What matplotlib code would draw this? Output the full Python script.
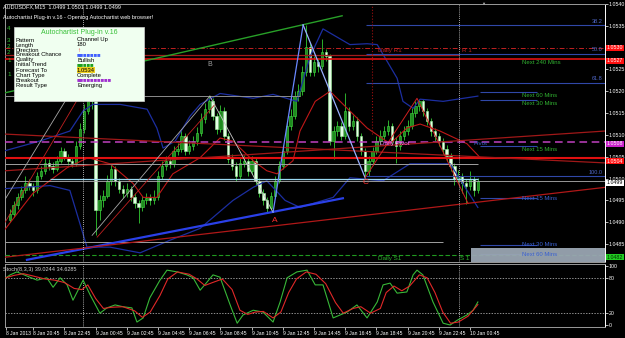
import matplotlib
matplotlib.use("Agg")
import matplotlib.pyplot as plt
from matplotlib.patches import Rectangle

plt.rcParams["font.family"] = ["Liberation Sans Narrow", "Liberation Sans", "DejaVu Sans"]

# -------------------------------
# Data (AUDUSD M15)
# -------------------------------
first_bar = 2          # bar slot of the first candle
first_open = 1.04905

closes = [1.04920, 1.04939, 1.04957, 1.04973, 1.04991, 1.04982, 1.04973, 1.05007, 1.05018, 1.05036,
          1.05030, 1.05023, 1.05041, 1.05064, 1.05050, 1.05041, 1.05036, 1.05075, 1.05114, 1.05155,
          1.05211, 1.05177, 1.04927, 1.04950, 1.04961, 1.04995, 1.05023, 1.04995, 1.04977, 1.04968,
          1.04977, 1.04959, 1.04945, 1.04936, 1.04950, 1.04955, 1.04950, 1.04959, 1.05007, 1.05030,
          1.05041, 1.05034, 1.05064, 1.05068, 1.05098, 1.05064, 1.05075, 1.05086, 1.05105, 1.05136,
          1.05159, 1.05177, 1.05143, 1.05114, 1.05155, 1.05098, 1.05045, 1.05030, 1.05007, 1.05036,
          1.05041, 1.05018, 1.05041, 1.04995, 1.04968, 1.04950, 1.04932, 1.04961, 1.04995, 1.05030,
          1.05064, 1.05120, 1.05143, 1.05189, 1.05200, 1.05245, 1.05302, 1.05245, 1.05268, 1.05257,
          1.05291, 1.05280, 1.05086, 1.05109, 1.05120, 1.05098, 1.05155, 1.05120, 1.05132, 1.05098,
          1.05064, 1.05018, 1.05041, 1.05064, 1.05086, 1.05098, 1.05109, 1.05120, 1.05086, 1.05075,
          1.05098, 1.05109, 1.05120, 1.05150, 1.05166, 1.05177, 1.05155, 1.05132, 1.05109, 1.05098,
          1.05086, 1.05068, 1.05052, 1.05030, 1.05000, 1.05007, 1.04991, 1.04984, 1.05000, 1.04973,
          1.04995]

highs = [1.04930, 1.04948, 1.04966, 1.04984, 1.05005, 1.04998, 1.04989, 1.05016, 1.05030, 1.05048,
         1.05045, 1.05039, 1.05052, 1.05073, 1.05070, 1.05057, 1.05050, 1.05086, 1.05127, 1.05170,
         1.05264, 1.05230, 1.05186, 1.04962, 1.04975, 1.05009, 1.05034, 1.05030, 1.05002, 1.04986,
         1.04991, 1.04984, 1.04966, 1.04952, 1.04961, 1.04968, 1.04964, 1.04975, 1.05018, 1.05041,
         1.05052, 1.05050, 1.05075, 1.05082, 1.05114, 1.05105, 1.05089, 1.05098, 1.05118, 1.05150,
         1.05173, 1.05189, 1.05184, 1.05150, 1.05168, 1.05164, 1.05105, 1.05057, 1.05039, 1.05048,
         1.05055, 1.05048, 1.05052, 1.05050, 1.05002, 1.04977, 1.04959, 1.04970, 1.05005, 1.05041,
         1.05077, 1.05132, 1.05159, 1.05200, 1.05216, 1.05257, 1.05352, 1.05311, 1.05282, 1.05277,
         1.05320, 1.05298, 1.05286, 1.05120, 1.05132, 1.05130, 1.05195, 1.05164, 1.05145, 1.05141,
         1.05105, 1.05070, 1.05052, 1.05073, 1.05098, 1.05111, 1.05120, 1.05134, 1.05127, 1.05095,
         1.05109, 1.05120, 1.05134, 1.05161, 1.05177, 1.05182, 1.05182, 1.05161, 1.05139, 1.05116,
         1.05105, 1.05093, 1.05077, 1.05059, 1.05036, 1.05020, 1.05014, 1.04998, 1.05018, 1.05005,
         1.05002]

lows = [1.04900, 1.04912, 1.04930, 1.04950, 1.04966, 1.04975, 1.04961, 1.04968, 1.04998, 1.05011,
        1.05020, 1.05014, 1.05018, 1.05036, 1.05043, 1.05032, 1.05027, 1.05030, 1.05068, 1.05105,
        1.05148, 1.05160, 1.04870, 1.04905, 1.04936, 1.04955, 1.04986, 1.04984, 1.04966, 1.04955,
        1.04959, 1.04948, 1.04932, 1.04898, 1.04925, 1.04941, 1.04939, 1.04943, 1.04952, 1.04998,
        1.05020, 1.05025, 1.05027, 1.05055, 1.05061, 1.05055, 1.05057, 1.05066, 1.05077, 1.05098,
        1.05127, 1.05150, 1.05134, 1.05102, 1.05107, 1.05089, 1.05036, 1.05020, 1.04995, 1.04998,
        1.05027, 1.05007, 1.05011, 1.04986, 1.04959, 1.04939, 1.04923, 1.04927, 1.04955, 1.04989,
        1.05023, 1.05057, 1.05111, 1.05136, 1.05177, 1.05191, 1.05236, 1.05234, 1.05236, 1.05245,
        1.05250, 1.05270, 1.05077, 1.05045, 1.05098, 1.05089, 1.05091, 1.05109, 1.05111, 1.05086,
        1.05055, 1.05000, 1.05005, 1.05032, 1.05057, 1.05077, 1.05089, 1.05100, 1.05077, 1.05036,
        1.05066, 1.05089, 1.05100, 1.05114, 1.05141, 1.05155, 1.05143, 1.05123, 1.05098, 1.05086,
        1.05075, 1.05057, 1.05041, 1.05018, 1.04986, 1.04989, 1.04966, 1.04943, 1.04975, 1.04961,
        1.04966]

# Bollinger bands and moving average (bar slot, price)
upper_band_bars = [0.8, 9.7, 17.4, 20.8, 23.3, 30.3, 37.2, 39.7, 41.3, 44.4, 48.2, 50.8, 55.9, 64.4,
                   69.5, 75.6, 79.0, 82.3, 89.2, 93.6, 96.2, 101.3, 102.8, 105.4, 107.2, 113.1, 122]
upper_band = [1.05064, 1.05086, 1.05109, 1.05155, 1.05170, 1.05170, 1.05159, 1.05116, 1.05070, 1.05086,
              1.05143, 1.05170, 1.05195, 1.05184, 1.05193, 1.05177, 1.05280, 1.05343, 1.05307, 1.05309,
              1.05307, 1.05230, 1.05177, 1.05161, 1.05182, 1.05177, 1.05189]
lower_band_bars = [0.8, 12.3, 17.4, 19.2, 21.8, 27.7, 35.4, 43.1, 50.8, 59.2, 64.4, 67.9, 72.6, 76.4,
                   84.9, 89.2, 97.7, 104.6, 114.9, 122]
lower_band = [1.04977, 1.04984, 1.04973, 1.04920, 1.04843, 1.04843, 1.04830, 1.04859, 1.04886, 1.04950,
              1.04980, 1.04995, 1.04950, 1.04934, 1.04957, 1.05002, 1.04995, 1.05034, 1.05034, 1.04934]
ma_bars = [0, 7.9, 16.7, 22.1, 27.7, 33.6, 36.2, 39.7, 43.8, 50.8, 55.9, 59.2, 64.4, 67.9, 70.5, 74.6,
           76.4, 80.3, 84.1, 88.5, 93.6, 99.5, 103.8, 107.2, 112.3, 119.2, 122.6]
ma_values = [1.04875, 1.04966, 1.05025, 1.05048, 1.05034, 1.04989, 1.04957, 1.04957, 1.05011, 1.05048,
             1.05093, 1.05086, 1.05041, 1.05018, 1.05011, 1.05041, 1.05109, 1.05177, 1.05200, 1.05161,
             1.05116, 1.05080, 1.05116, 1.05125, 1.05109, 1.05080, 1.05048]

# Stochastic (8,3,3)
stoch_k_bars = [1, 2.1, 3.8, 6.4, 9, 11.5, 13.1, 14.9, 16.7, 18.2, 20.8, 22.6, 25.1, 26.9, 29, 31, 33.3,
                34.6, 36.2, 37.9, 40.5, 42.3, 44.9, 47.4, 49, 50.8, 52.6, 54.1, 55.9, 58.5, 60.3, 61.8,
                64.4, 66.9, 69.5, 71.3, 73.1, 75.6, 78.2, 80.3, 82.3, 84.9, 88.5, 91, 93.6, 96.2, 97.7,
                99.5, 101.3, 103.8, 105.4, 106.4, 107.9, 110.5, 113.1, 114.9, 116.7, 119.2, 120.8, 122]
stoch_k = [80, 85, 90, 83, 76, 80, 64, 80, 68, 42, 76, 51, 20, 29, 34, 31, 29,
           5, 12, 46, 76, 93, 90, 85, 80, 59, 73, 85, 81, 34, 3, 17,
           25, 22, 5, 39, 80, 90, 93, 68, 68, 12, 22, 34, 12, 39, 68,
           71, 54, 56, 85, 93, 85, 39, 3, 0, 8, 17, 25, 39]
stoch_d_bars = [1, 3, 5.5, 8, 11, 13.5, 16, 18.5, 20.5, 22, 24, 26, 28, 31, 34, 36, 38, 40.5, 42.5, 45,
                48, 50, 52, 54, 56.5, 59, 61, 63, 65, 67, 69.5, 71.5, 73.5, 75.5, 78, 80.5, 83, 85.5,
                87.5, 90, 92, 94.5, 97, 98.5, 100.5, 102.5, 104.5, 107, 109, 111, 113, 115, 117,
                119.5, 122]
stoch_d = [80, 84, 87, 83, 78, 76, 72, 62, 60, 68, 45, 28, 30, 31, 24, 13, 22, 50, 78, 90,
           86, 78, 67, 72, 78, 60, 25, 18, 22, 23, 12, 22, 55, 78, 90, 86, 70, 38,
           20, 28, 31, 20, 28, 55, 66, 58, 66, 85, 80, 55, 22, 3, 5,
           15, 34.6]

tick_bars = [1, 8, 16, 24, 32, 40, 48, 56, 64, 72, 80, 88, 96, 104, 112, 120]
tick_labels = ["8 Jan 2013", "8 Jan 20:45", "8 Jan 22:45", "9 Jan 00:45", "9 Jan 02:45",
               "9 Jan 04:45", "9 Jan 06:45", "9 Jan 08:45", "9 Jan 10:45", "9 Jan 12:45",
               "9 Jan 14:45", "9 Jan 16:45", "9 Jan 18:45", "9 Jan 20:45", "9 Jan 22:45",
               "10 Jan 00:45"]
price_ticks = [1.0540, 1.0535, 1.0530, 1.0525, 1.0520, 1.0515, 1.0510, 1.0505, 1.0500,
               1.0495, 1.0490, 1.0485]

# marked prices on the right axis
box_prices = [1.0530, 1.0527, 1.0508, 1.0504, 1.0499, 1.0482]
box_colors = ["#ff1010", "#ff1010", "#cc22cc", "#ff1010", "#ffffff", "#22cc22"]
box_text = ["white", "white", "white", "white", "black", "#003300"]

# fibonacci levels of the pattern
fib_names = ["38.2", "50.0", "61.8", "100.0"]
fib_prices = [1.05352, 1.05286, 1.05220, 1.05005]

# autochartist forecast levels
next_names = ["Next 240 Mins", "Next 60 Mins", "Next 30 Mins", "Next 15 Mins",
              "Next 15 Mins", "Next 30 Mins", "Next 60 Mins"]
next_prices = [1.05273, 1.05198, 1.05180, 1.05075, 1.04955, 1.04848, 1.04827]
next_above = [True, True, True, True, False, False, False]

# trend lines: (bar, price) anchors
green_line = ([0, 87.2], [1.05195, 1.05373])
blue_support = ([6.4, 87.4], [1.04814, 1.04955])
red_lower = ([0.8, 154.6], [1.04820, 1.04980])
red_rising = ([0.8, 154.6], [1.05018, 1.05109])
red_falling = ([0.8, 154.6], [1.05102, 1.05036])
left_gray = ([0, 21.3], [1.04941, 1.05252])
left_red = ([0.8, 22.1], [1.04900, 1.05223])
gray_xb = ([23.1, 53.3], [1.04870, 1.05189])
red_xb = ([24.4, 54.6], [1.04866, 1.05170])
gray_ba = ([53.3, 69.5], [1.05189, 1.04923])
blue_a_top = ([69.5, 77.2], [1.04923, 1.05352])
steel_top_c = ([77.2, 93.1], [1.05352, 1.05002])
red_c_zig = ([93.1, 106.4, 119.5], [1.05002, 1.05184, 1.04943])

# -------------------------------
# Figure
# -------------------------------
W, H = 625, 338
fig = plt.figure(figsize=(6.25, 3.38), dpi=100, facecolor="black")
ax = fig.add_axes([5 / W, 1 - 262 / H, 600 / W, 258 / H], facecolor="black")
ax2 = fig.add_axes([5 / W, 1 - 327 / H, 600 / W, 63 / H], facecolor="black")

XMIN, XMAX = 0.77, 154.6
ax.set_xlim(XMIN, XMAX)
ax.set_ylim(1.04809, 1.05395)
ax2.set_xlim(XMIN, XMAX)
ax2.set_ylim(-3.4, 103.4)

# candles
opens = [first_open] + closes[:-1]
xs = [first_bar + i for i in range(len(closes))]
ax.vlines(xs, lows, highs, color="#33cc33", lw=0.6, zorder=2)
for x, o, c in zip(xs, opens, closes):
    bull = c >= o
    ax.bar(x, max(abs(c - o), 0.00002), bottom=min(o, c), width=0.62,
           color="#1e8c1e" if bull else "#e4ffe4",
           edgecolor="#44dd44" if bull else "#9cf09c", linewidth=0.4, zorder=2)

# bands and moving average
ax.plot(upper_band_bars, upper_band, color="#1c2ea0", lw=0.9, zorder=3)
ax.plot(lower_band_bars, lower_band, color="#1c2ea0", lw=0.9, zorder=3)
ax.plot(ma_bars, ma_values, color="#c01818", lw=0.8, zorder=3)

# horizontal levels
ax.axhline(1.05300, color="#c02020", lw=0.7, ls=(0, (5, 2, 1, 2)), zorder=3)
ax.hlines(1.05284, XMIN, 117.2, color="#a01c1c", lw=0.9, zorder=3)
ax.axhline(1.05273, color="#e01010", lw=1.2, zorder=3)
ax.hlines(1.05189, XMIN, 76.4, color="#8c8c8c", lw=0.7, zorder=3)
ax.axhline(1.05084, color="#c040c0", lw=1.1, ls=(0, (5, 3)), zorder=3)
ax.axhline(1.05048, color="#e01010", lw=1.5, zorder=3)
ax.hlines(1.05034, XMIN, 122, color="#a0a0a0", lw=0.7, zorder=3)
ax.hlines(1.05000, 12.3, 122, color="#9ad8f0", lw=0.9, zorder=3)
ax.axhline(1.04995, color="#b0b0b0", lw=0.6, zorder=3)
ax.hlines(1.04855, XMIN, 113.0, color="#a0a0a0", lw=0.7, zorder=3)
ax.axhline(1.04825, color="#209a20", lw=0.8, ls=(0, (4, 2)), zorder=3)

for name, p in zip(fib_names, fib_prices):
    ax.hlines(p, 93.3, XMAX, color="#3048a8", lw=0.8, zorder=3)
    ax.text(154.0, p + 0.00003, name, color="#5068c8", fontsize=4, ha="right", va="bottom", zorder=5)

for name, p, above in zip(next_names, next_prices, next_above):
    if name != "Next 240 Mins":
        ax.hlines(p, 122.6, 137.2, color="#3048a8", lw=0.8, zorder=3)
    ax.text(133.3, p + (-0.00008 if above else 0.0), name,
            color="#30b030" if above else "#3a60d0", fontsize=4.3, va="center", zorder=5)

# forecast zone
ax.add_patch(Rectangle((120.3, 1.04809), XMAX - 120.3, 0.00032, facecolor="#9aa6b2",
                       edgecolor="none", alpha=0.95, zorder=4))

# trend lines
ax.plot(*green_line, color="#28a028", lw=1.0, zorder=3)
ax.plot(*blue_support, color="#2a40e8", lw=1.6, zorder=3)
ax.plot(*red_lower, color="#b01818", lw=0.9, zorder=3)
ax.plot(*red_rising, color="#a01818", lw=0.9, zorder=3)
ax.plot(*red_falling, color="#a01818", lw=0.9, zorder=3)
ax.plot(*left_gray, color="#a8a8a8", lw=0.6, zorder=3)
ax.plot(*left_red, color="#c02020", lw=0.6, zorder=3)
ax.plot(*gray_xb, color="#a8a8a8", lw=0.6, zorder=3)
ax.plot(*red_xb, color="#c02020", lw=0.6, zorder=3)
ax.plot(*gray_ba, color="#c8c8c8", lw=0.6, zorder=3)
ax.plot(*blue_a_top, color="#6a88ff", lw=0.9, zorder=3)
ax.plot(*steel_top_c, color="#9ab0ff", lw=0.9, zorder=3)
ax.plot(*red_c_zig, color="#d02020", lw=0.7, zorder=3)

# vertical markers
ax.vlines(94.9, 1.05102, 1.05395, color="#a01010", lw=0.8, ls=":", zorder=3)
for a in (ax, ax2):
    a.axvline(20.8, color="#e0e0e0", lw=0.6, ls=(0, (1, 1.5)), zorder=3)
    a.axvline(117.2, color="#e0e0e0", lw=0.6, ls=(0, (1, 1.5)), zorder=3)

# chart labels
ax.text(99.5, 1.05293, "Daily R1", color="#c02020", fontsize=4.5, ha="center", va="center", zorder=5)
ax.text(119.2, 1.05293, "R 1", color="#c02020", fontsize=4.5, ha="center", va="center", zorder=5)
ax.text(100.8, 1.05080, "Daily Pivot", color="#ff70ff", fontsize=4.5, ha="center", va="center", zorder=5)
ax.text(122.6, 1.05080, "Pivot", color="#3a60d0", fontsize=4.5, ha="center", va="center", zorder=5)
ax.text(99.5, 1.04818, "Daily S1", color="#30b030", fontsize=4.5, ha="center", va="center", zorder=5)
ax.text(118.7, 1.04818, "S 1", color="#30b030", fontsize=4.5, ha="center", va="center", zorder=5)
ax.text(70.0, 1.04905, "A", color="#ff3030", fontsize=6, ha="center", va="center", zorder=5)
ax.text(53.3, 1.05261, "B", color="#a0a0a0", fontsize=5, ha="center", va="center", zorder=5)
ax.text(93.3, 1.04990, "C", color="#ff3030", fontsize=6, ha="center", va="center", zorder=5)

# right price axis
for a in (ax, ax2):
    a.yaxis.tick_right()
    a.tick_params(axis="y", colors="white", labelsize=3.8, length=2, width=0.5, pad=0.8)
    for s in a.spines.values():
        s.set_color("#9a9a9a")
        s.set_linewidth(0.7)
    a.spines["right"].set_color("white")
ax.set_yticks(price_ticks)
# the marked price boxes take the place of the tick label they cover
ax.set_yticklabels(["" if p in box_prices else f"{p:.4f}" for p in price_ticks])
ax.set_xticks([])

ytr = ax.get_yaxis_transform()
for p, fc, tc in zip(box_prices, box_colors, box_text):
    ax.text(1.003, p, f"{p:.4f}", transform=ytr, fontsize=3.8, color=tc, ha="left", va="center",
            bbox=dict(facecolor=fc, edgecolor="none", pad=0.4), clip_on=False, zorder=6)

# stochastic panel
ax2.plot(stoch_k_bars, stoch_k, color="#38b838", lw=0.8, zorder=4)
ax2.plot(stoch_d_bars, stoch_d, color="#e02828", lw=0.8, zorder=4)
for lvl in (20, 80):
    ax2.axhline(lvl, color="#c8c8c8", lw=0.5, ls=(0, (2, 2)), zorder=2)
ax2.set_yticks([0, 20, 80, 100])
ax2.set_yticklabels(["0", "20", "80", "100"])
ax2.set_xticks(tick_bars)
ax2.set_xticklabels(tick_labels)
ax2.tick_params(axis="x", colors="white", labelsize=3.6, length=2, width=0.5, pad=1)
for lab in ax2.get_xticklabels():
    lab.set_ha("left")


def fx(x):
    return x / W


def fy(y):
    return 1 - y / H


fig.text(fx(3), fy(7), "AUDUSDFX,M15  1.0499 1.0501 1.0499 1.0499", color="white", fontsize=4.0, va="center")
fig.text(fx(3), fy(17), "Autochartist Plug-in v.16 - Opening Autochartist web browser!", color="white",
         fontsize=4.0, va="center")
fig.text(fx(3), fy(269), "Stoch(8,3,3) 39.0244 34.6285", color="#d0d0d0", fontsize=4, va="center")
fig.text(fx(483), fy(4), "\u25bc", color="#b0b0b0", fontsize=3, ha="center", va="center")

for t, y in zip(["4", "3", "2", "2", "1", "1"], [29, 41, 46, 52, 61, 75]):
    fig.text(fx(7), fy(y), t, color="#30c030", fontsize=4.5, va="center")

# autochartist info panel
fig.add_artist(Rectangle((fx(14), fy(101)), 130 / W, 74 / H, transform=fig.transFigure,
                         facecolor="#f0fff0", edgecolor="#d0d0d0", lw=0.5, zorder=5))
fig.text(fx(79), fy(32), "Autochartist Plug-in v.16", color="#38c038", fontsize=5,
         ha="center", va="center", zorder=6)
row_names = ["Pattern", "Length", "Direction", "Breakout Chance", "Quality",
             "Initial Trend", "Forecast To", "Chart Type", "Breakout", "Result Type"]
row_values = ["Channel Up", "180", "\u2191", "\u25a0\u25a0\u25a0\u25a0\u25a0\u25a0\u25a0", "Bullish",
              "\u25a0\u25a0\u25a0\u25a0\u25a0", "1.0534", "Complete",
              "\u25a0\u25a0\u25a0\u25a0\u25a0\u25a0\u25a0\u25a0\u25a0\u25a0", "Emerging"]
row_colors = ["black", "black", "#e02020", "#4060ff", "black", "#20a020", "black", "black",
              "#a030d0", "black"]
for k, (n, v, c) in enumerate(zip(row_names, row_values, row_colors)):
    y = 40 + k * 5
    fig.text(fx(16), fy(y), n, color="black", fontsize=4.2, va="center", zorder=6)
    kw = dict(color=c, fontsize=4.2, va="center", zorder=6)
    if v == "1.0534":
        kw["bbox"] = dict(facecolor="#f0d020", edgecolor="none", pad=0.3)
    fig.text(fx(77), fy(y), v, **kw)

plt.savefig("out.png", dpi=100, facecolor="black")
print("saved out.png")
